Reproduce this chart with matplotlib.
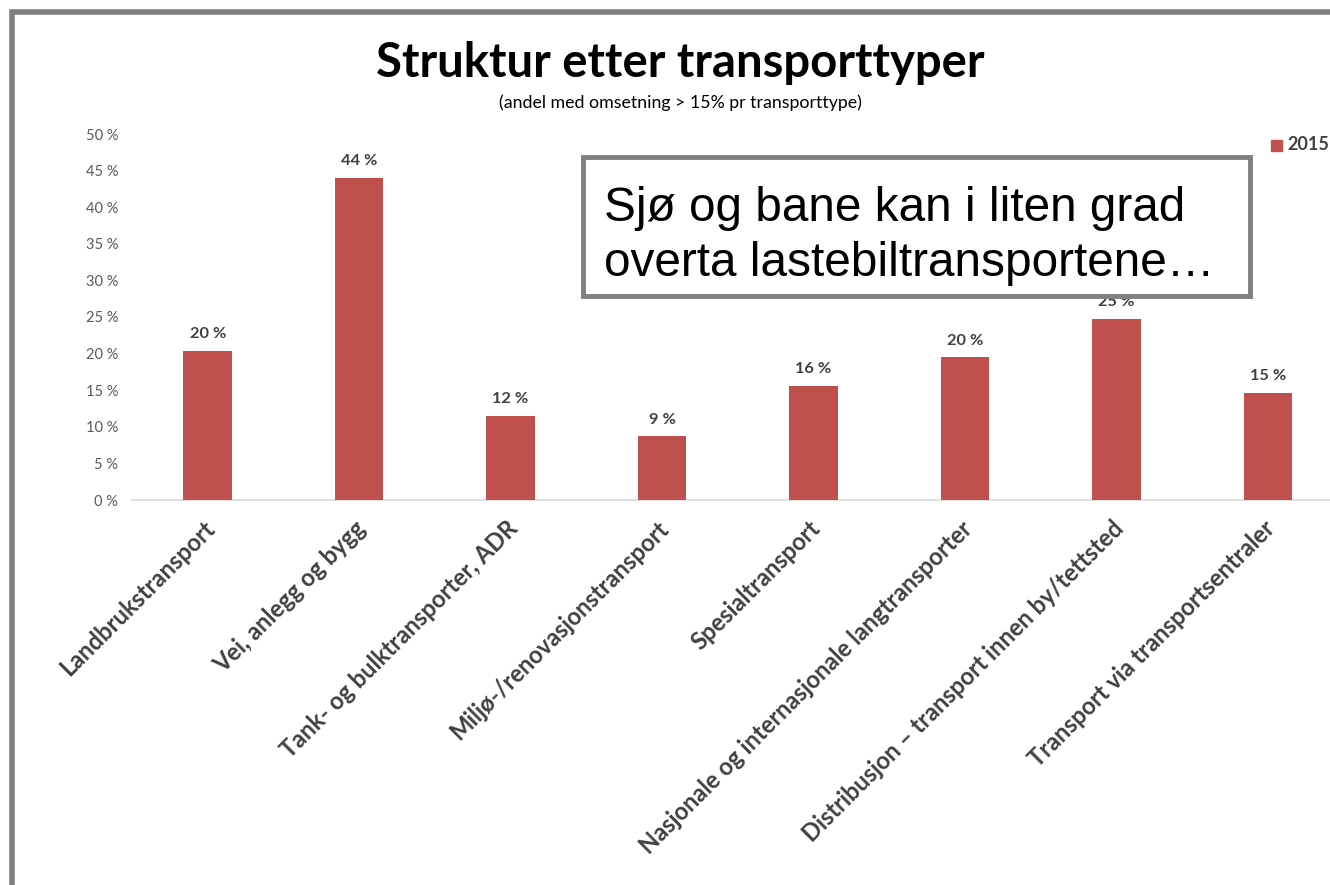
import numpy as np
import matplotlib.pyplot as plt
from matplotlib.patches import Rectangle
from matplotlib.ticker import FuncFormatter
from matplotlib.transforms import ScaledTranslation

categories = ['Landbrukstransport', 'Vei, anlegg og bygg', 'Tank- og bulktransporter, ADR',
              'Miljø-/renovasjonstransport', 'Spesialtransport',
              'Nasjonale og internasjonale langtransporter',
              'Distribusjon – transport innen by/tettsted', 'Transport via transportsentraler']
values_2015 = [0.204, 0.440, 0.115, 0.087, 0.156, 0.195, 0.247, 0.146]
series_name = '2015'

bar_color = '#C0504D'
dark = '#404040'
grey = '#595959'
font = ['Lato', 'DejaVu Sans']

fig = plt.figure(figsize=(13.3, 8.85), dpi=100)
ax = fig.add_axes([132 / 1330, 1 - 500 / 885, 1211.5 / 1330, 366 / 885])

x = np.arange(len(categories))
bars = ax.bar(x, values_2015, width=0.32, color=bar_color, label=series_name, zorder=3)
ax.set_xlim(-0.5, len(categories) - 0.5)
ax.set_ylim(0, 0.5)
ax.set_yticks(np.arange(0, 0.51, 0.05))
ax.yaxis.set_major_formatter(FuncFormatter(lambda v, p: f'{round(v * 100)} %'))
for lab in ax.get_yticklabels():
    lab.set_family(font)
    lab.set_fontsize(10.5)
    lab.set_color(grey)
ax.tick_params(axis='y', length=0, pad=10)
ax.tick_params(axis='x', length=0, pad=12)
ax.set_xticks(x)
ax.set_xticklabels(categories, rotation=45, ha='right', rotation_mode='anchor',
                   fontsize=17, fontweight='bold', color=dark, family=font)
# nudge the rotated labels a little to the left
shift = ScaledTranslation(-5 / 100, 0, fig.dpi_scale_trans)
for lab in ax.get_xticklabels():
    lab.set_transform(lab.get_transform() + shift)
for s in ['top', 'right', 'left']:
    ax.spines[s].set_visible(False)
ax.spines['bottom'].set_color('#D9D9D9')
ax.spines['bottom'].set_linewidth(1.2)

# data labels
for b, v in zip(bars, values_2015):
    ax.annotate(f'{round(v * 100)} %', (b.get_x() + b.get_width() / 2, v),
                xytext=(0, 7), textcoords='offset points', ha='center', va='bottom',
                fontsize=11.8, fontweight='bold', color=dark, family=font)

# titles
fig.text(680 / 1330, 1 - 63 / 885, 'Struktur etter transporttyper', ha='center', va='center',
         fontsize=34, fontweight='bold', color='black', family=font)
fig.text(680 / 1330, 1 - 103 / 885, '(andel med omsetning > 15% pr transporttype)',
         ha='center', va='center', fontsize=12.8, color='black', family=font)

# legend
fig.patches.append(Rectangle((1271 / 1330, 1 - 151 / 885), 11 / 1330, 11 / 885,
                             transform=fig.transFigure, color=bar_color))
fig.text(1287 / 1330, 1 - 145 / 885, series_name, ha='left', va='center',
         fontsize=13, fontweight='bold', color=dark, family=font)

# text box
fig.patches.append(Rectangle((583 / 1330, 1 - 296 / 885), 667 / 1330, 139 / 885,
                             transform=fig.transFigure, facecolor='white',
                             edgecolor='#7F7F7F', linewidth=3.5, zorder=5))
fig.text(604 / 1330, 1 - 236 / 885, 'Sjø og bane kan i liten grad\noverta lastebiltransportene…',
         ha='left', va='center', fontsize=34.4, color='black', linespacing=1.3,
         family=['Liberation Sans', 'DejaVu Sans'], zorder=6)

# outer frame
fig.patches.append(Rectangle((12 / 1330, -0.1), 1.2, 1 - 12 / 885 + 0.1,
                             transform=fig.transFigure, facecolor='none',
                             edgecolor='#808080', linewidth=4))

fig.savefig('out.png', dpi=100)
